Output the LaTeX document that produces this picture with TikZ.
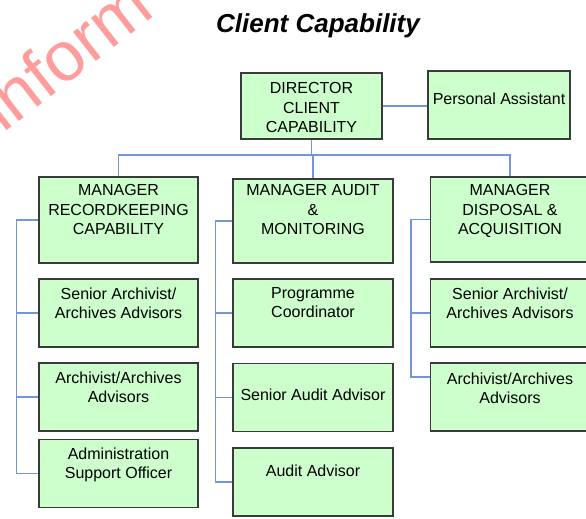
\documentclass[tikz,border=0pt]{standalone}
\usepackage{fontspec}
\setmainfont{Liberation Sans}
\definecolor{boxgreen}{HTML}{CCFFCC}
\definecolor{boxline}{HTML}{3A3A3A}
\definecolor{linkblue}{HTML}{7296D8}
\definecolor{wmred}{HTML}{FF9C9C}
\tikzset{
  post/.style={draw=boxline, fill=boxgreen, line width=1.3pt, minimum width=159pt, minimum height=68pt, inner sep=0pt},
  txt/.style={anchor=north, align=center, inner sep=0pt, font=\fontsize{16}{19.3}\selectfont},
  link/.style={draw=linkblue, line width=1.6pt},
}

\begin{document}
\begin{tikzpicture}[x=1pt,y=-1pt]
	\useasboundingbox (0,0) rectangle (586,519);
	\clip (0,0) rectangle (586,519);
	
	% watermark and title
	\node[rotate=38, text=wmred, font=\fontsize{70}{74}\selectfont, anchor=base west, inner sep=0pt] (wm) at (3,134) {inform};
	\node[font=\fontsize{26}{30}\selectfont\bfseries\itshape, anchor=base] (title) at (318,33) {Client Capability};
	
	% top
	\node[post, minimum width=141pt, minimum height=66pt] (dir) at (311.5,106) {};
	\node[txt] (dir-t) at ([yshift=-10pt]dir.north) {DIRECTOR\\CLIENT\\CAPABILITY};
	\node[post, minimum width=142pt] (pa) at (499,105) {};
	\node[txt] (pa-t) at ([yshift=-22pt]pa.north) {Personal Assistant};
	
	% managers
	\node[post, minimum height=86pt] (rk) at (118.5,220) {};
	\node[txt] (rk-t) at ([yshift=-8pt]rk.north) {MANAGER\\RECORDKEEPING\\CAPABILITY};
	\node[post, minimum width=160pt, minimum height=84pt] (am) at (313,221) {};
	\node[txt] (am-t) at ([yshift=-6pt]am.north) {MANAGER AUDIT\\\&\\MONITORING};
	\node[post, minimum height=85pt] (da) at (510,219.5) {};
	\node[txt] (da-t) at ([yshift=-8pt]da.north) {MANAGER\\DISPOSAL \&\\ACQUISITION};
	
	% second row
	\node[post] (sa1) at (118.5,313) {};
	\node[txt] (sa1-t) at ([yshift=-9pt]sa1.north) {Senior Archivist/\\Archives Advisors};
	\node[post, minimum width=160pt] (pc) at (313,313) {};
	\node[txt] (pc-t) at ([yshift=-9pt]pc.north) {Programme\\Coordinator};
	\node[post] (sa3) at (510,313) {};
	\node[txt] (sa3-t) at ([yshift=-9pt]sa3.north) {Senior Archivist/\\Archives Advisors};
	
	% third row
	\node[post] (aa1) at (118.5,397) {};
	\node[txt] (aa1-t) at ([yshift=-9pt]aa1.north) {Archivist/Archives\\Advisors};
	\node[post, minimum width=160pt] (sd) at (313,397.5) {};
	\node[txt] (sd-t) at ([yshift=-26pt]sd.north) {Senior Audit Advisor};
	\node[post] (aa3) at (510,397) {};
	\node[txt] (aa3-t) at ([yshift=-10pt]aa3.north) {Archivist/Archives\\Advisors};
	
	% fourth row
	\node[post] (ao) at (118.5,473.5) {};
	\node[txt] (ao-t) at ([yshift=-9pt]ao.north) {Administration\\Support Officer};
	\node[post, minimum width=160pt] (ad) at (313,482) {};
	\node[txt] (ad-t) at ([yshift=-17pt]ad.north) {Audit Advisor};
	
	% connectors
	\coordinate (bus) at (313,155);
	\draw[link] (dir.east) -- (dir.east -| pa.west);
	\draw[link] (dir.south) -- (dir.south |- bus);
	\draw[link] (rk.north) -- (rk.north |- bus) -- (da.north |- bus) -- (da.north);
	\draw[link] (am.north) -- (am.north |- bus);
	
	\draw[link] (rk.west) -- ++(-22,0) coordinate (r1) |- (ao.west);
	\foreach \b in {sa1,aa1}
		\draw[link] (r1 |- \b.west) -- (\b.west);
	\draw[link] (am.west) -- ++(-17,0) coordinate (r2) |- (ad.west);
	\foreach \b in {pc,sd}
		\draw[link] (r2 |- \b.west) -- (\b.west);
	\draw[link] (da.west) -- ++(-19,0) coordinate (r3) |- ([yshift=20pt]aa3.west);
	\draw[link] (r3 |- sa3.west) -- (sa3.west);
\end{tikzpicture}
\end{document}
